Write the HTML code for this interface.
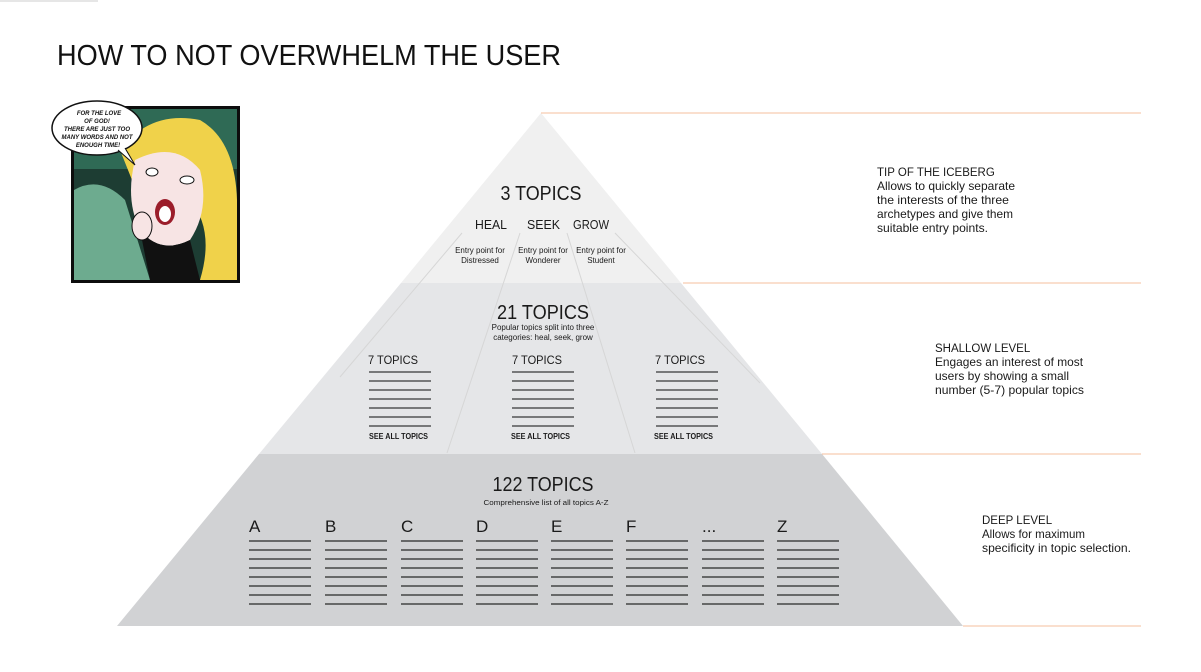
<!DOCTYPE html>
<html><head><meta charset="utf-8"><style>
html,body{margin:0;padding:0;background:#fff;}
svg{display:block;font-family:"Liberation Sans",sans-serif;}
</style></head><body>
<svg width="1201" height="672" viewBox="0 0 1201 672" xmlns="http://www.w3.org/2000/svg">
<rect width="1201" height="672" fill="#fff"/>
<line x1="0" y1="1" x2="98" y2="1" stroke="#e6e6e6" stroke-width="2"/>
<text x="57" y="65" font-size="29" fill="#111" textLength="504" lengthAdjust="spacingAndGlyphs">HOW TO NOT OVERWHELM THE USER</text>

<polygon points="541,113 681,283 401,283" fill="#f0f0f0"/>
<polygon points="401,283 681,283 822,454 259,454" fill="#e5e6e8"/>
<polygon points="259,454 822,454 963,626 117,626" fill="#d1d2d4"/>
<g stroke="#d6d6d6" stroke-width="1">
<line x1="462" y1="233" x2="340" y2="377"/>
<line x1="520" y1="233" x2="447" y2="453"/>
<line x1="567" y1="233" x2="635" y2="453"/>
<line x1="615" y1="233" x2="760" y2="383"/>
</g>
<g stroke="#f6bf9c" stroke-width="1">
<line x1="541" y1="113" x2="1141" y2="113"/>
<line x1="683" y1="283" x2="1141" y2="283"/>
<line x1="822" y1="454" x2="1141" y2="454"/>
<line x1="963" y1="626" x2="1141" y2="626"/>
</g>

<g fill="#1a1a1a">
<text x="541" y="200" font-size="20" text-anchor="middle" textLength="81" lengthAdjust="spacingAndGlyphs">3 TOPICS</text>
<text x="475" y="229" font-size="13" textLength="32" lengthAdjust="spacingAndGlyphs">HEAL</text>
<text x="527" y="229" font-size="13" textLength="33" lengthAdjust="spacingAndGlyphs">SEEK</text>
<text x="573" y="229" font-size="13" textLength="36" lengthAdjust="spacingAndGlyphs">GROW</text>
<g font-size="8" text-anchor="middle">
<text x="480" y="253">Entry point for</text><text x="480" y="263">Distressed</text>
<text x="543" y="253">Entry point for</text><text x="543" y="263">Wonderer</text>
<text x="601" y="253">Entry point for</text><text x="601" y="263">Student</text>
</g>
<text x="543" y="319" font-size="20" text-anchor="middle" textLength="92" lengthAdjust="spacingAndGlyphs">21 TOPICS</text>
<text x="543" y="330" font-size="8" text-anchor="middle">Popular topics split into three</text>
<text x="543" y="340" font-size="8" text-anchor="middle">categories: heal, seek, grow</text>
<text x="368" y="364" font-size="12" textLength="50" lengthAdjust="spacingAndGlyphs">7 TOPICS</text>
<text x="512" y="364" font-size="12" textLength="50" lengthAdjust="spacingAndGlyphs">7 TOPICS</text>
<text x="655" y="364" font-size="12" textLength="50" lengthAdjust="spacingAndGlyphs">7 TOPICS</text>
<text x="369" y="439" font-size="8" font-weight="bold" textLength="59" lengthAdjust="spacingAndGlyphs">SEE ALL TOPICS</text>
<text x="511" y="439" font-size="8" font-weight="bold" textLength="59" lengthAdjust="spacingAndGlyphs">SEE ALL TOPICS</text>
<text x="654" y="439" font-size="8" font-weight="bold" textLength="59" lengthAdjust="spacingAndGlyphs">SEE ALL TOPICS</text>
<text x="543" y="491" font-size="20" text-anchor="middle" textLength="101" lengthAdjust="spacingAndGlyphs">122 TOPICS</text>
<text x="546" y="505" font-size="7" text-anchor="middle" textLength="125" lengthAdjust="spacingAndGlyphs">Comprehensive list of all topics A-Z</text>
<g font-size="17">
<text x="249" y="532">A</text><text x="325" y="532">B</text><text x="401" y="532">C</text><text x="476" y="532">D</text>
<text x="551" y="532">E</text><text x="626" y="532">F</text><text x="702" y="532">...</text><text x="777" y="532">Z</text>
</g>
</g>

<g stroke="#555" stroke-width="1.6">
<path d="M369 372h62M369 381h62M369 390h62M369 399h62M369 408h62M369 417h62M369 426h62"/>
<path d="M512 372h62M512 381h62M512 390h62M512 399h62M512 408h62M512 417h62M512 426h62"/>
<path d="M656 372h62M656 381h62M656 390h62M656 399h62M656 408h62M656 417h62M656 426h62"/>
</g>
<g stroke="#444" stroke-width="1.5">
<path id="col" d="M0 541h62M0 550h62M0 559h62M0 568h62M0 577h62M0 586h62M0 595h62M0 604h62" transform="translate(249,0)"/>
<use href="#col" x="76"/><use href="#col" x="152"/><use href="#col" x="227"/><use href="#col" x="302"/><use href="#col" x="377"/><use href="#col" x="453"/><use href="#col" x="528"/>
</g>

<g fill="#1a1a1a" font-size="12">
<text x="877" y="176" font-size="11.5">TIP OF THE ICEBERG</text>
<text x="877" y="190" textLength="138" lengthAdjust="spacingAndGlyphs">Allows to quickly separate</text>
<text x="877" y="204" textLength="132" lengthAdjust="spacingAndGlyphs">the interests of the three</text>
<text x="877" y="218" textLength="136" lengthAdjust="spacingAndGlyphs">archetypes and give them</text>
<text x="877" y="232" textLength="111" lengthAdjust="spacingAndGlyphs">suitable entry points.</text>
<text x="935" y="352" font-size="11.5">SHALLOW LEVEL</text>
<text x="935" y="366" textLength="148" lengthAdjust="spacingAndGlyphs">Engages an interest of most</text>
<text x="935" y="380" textLength="134" lengthAdjust="spacingAndGlyphs">users by showing a small</text>
<text x="935" y="394" textLength="149" lengthAdjust="spacingAndGlyphs">number (5-7) popular topics</text>
<text x="982" y="524" font-size="11.5">DEEP LEVEL</text>
<text x="982" y="538" textLength="103" lengthAdjust="spacingAndGlyphs">Allows for maximum</text>
<text x="982" y="552" textLength="149" lengthAdjust="spacingAndGlyphs">specificity in topic selection.</text>
</g>

<g>
<rect x="71" y="106" width="169" height="177" fill="#0d0d0d"/>
<rect x="74" y="109" width="163" height="171" fill="#1d3d33"/>
<rect x="74" y="109" width="163" height="60" fill="#2f6a55"/>
<path d="M74 190 Q100 175 125 200 L150 280 L74 280Z" fill="#6dab8f"/>
<path d="M120 150 Q150 110 200 120 Q235 140 237 200 L237 280 L200 280 Q215 230 190 200 L140 200Z" fill="#f0d24a"/>
<path d="M135 160 Q175 140 200 170 Q210 210 190 240 Q160 255 140 230 Q125 200 135 160Z" fill="#f7e4e4"/>
<path d="M140 230 Q160 255 190 240 L200 280 L150 280Z" fill="#111"/>
<ellipse cx="165" cy="212" rx="10" ry="13" fill="#9b1d2a"/>
<ellipse cx="165" cy="214" rx="6" ry="8" fill="#fff"/>
<ellipse cx="152" cy="172" rx="6" ry="4" fill="#fff" stroke="#111"/>
<ellipse cx="187" cy="180" rx="7" ry="4" fill="#fff" stroke="#111"/>
<ellipse cx="142" cy="226" rx="10" ry="14" fill="#f7e4e4" stroke="#111"/>
<ellipse cx="97" cy="128" rx="45" ry="27" fill="#fff" stroke="#111" stroke-width="1.5"/>
<path d="M118 150 L135 165 L125 148" fill="#fff" stroke="#111"/>
<g font-size="6" font-style="italic" font-weight="bold" text-anchor="middle" fill="#111">
<text x="99" y="115">FOR THE LOVE</text>
<text x="97" y="123">OF GOD!</text>
<text x="97" y="131">THERE ARE JUST TOO</text>
<text x="97" y="139">MANY WORDS AND NOT</text>
<text x="98" y="147">ENOUGH TIME!</text>
</g>
</g>
</svg>
</body></html>
